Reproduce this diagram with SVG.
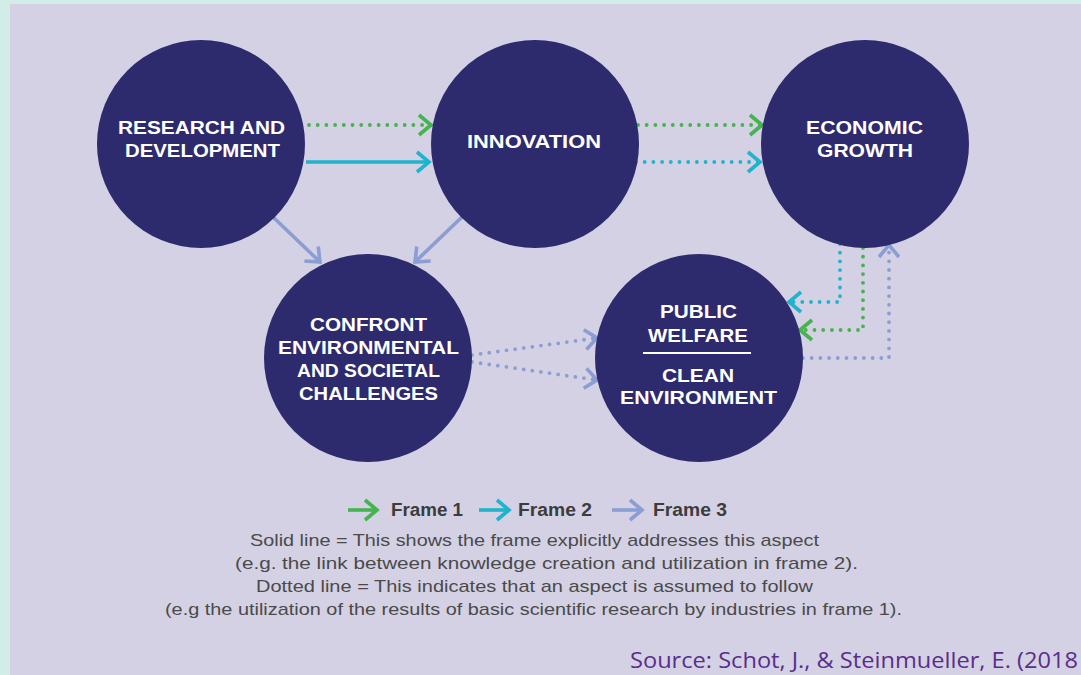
<svg xmlns="http://www.w3.org/2000/svg" width="1081" height="675" viewBox="0 0 1081 675">
<style>
.node circle{fill:#2E2A6E}
.lbl{font-family:"Liberation Sans",Arial,sans-serif;font-weight:bold;font-size:19px;fill:#FFFFFF;text-anchor:middle}
.ln{fill:none;stroke-width:3.6}
.dot{fill:none;stroke-width:3.8;stroke-dasharray:0 8.7;stroke-linecap:round}
.g{stroke:#45B34E}
.c{stroke:#1FB3CC}
.l{stroke:#8C9DD4}
.leg{font-family:"Liberation Sans",Arial,sans-serif;font-weight:bold;font-size:18px;fill:#3C3C3C}
.desc{font-family:"Liberation Sans",Arial,sans-serif;font-size:17px;fill:#4A4A4A;text-anchor:middle}
</style>
<defs>
<marker id="mg" markerUnits="userSpaceOnUse" viewBox="-16 -14 20 28" markerWidth="20" markerHeight="28" refX="0" refY="0" orient="auto"><path d="M-12,-10 L0,0 L-12,10" fill="none" stroke="#45B34E" stroke-width="3.6"/></marker>
<marker id="mc" markerUnits="userSpaceOnUse" viewBox="-16 -14 20 28" markerWidth="20" markerHeight="28" refX="0" refY="0" orient="auto"><path d="M-12,-10 L0,0 L-12,10" fill="none" stroke="#1FB3CC" stroke-width="3.6"/></marker>
<marker id="ml" markerUnits="userSpaceOnUse" viewBox="-16 -14 20 28" markerWidth="20" markerHeight="28" refX="0" refY="0" orient="auto"><path d="M-12,-10 L0,0 L-12,10" fill="none" stroke="#8C9DD4" stroke-width="3.6"/></marker>
</defs>
<rect x="0" y="0" width="1081" height="675" fill="#D2EDE8"/>
<rect x="10" y="4" width="1071" height="671" fill="#D4D1E4"/>

<g id="connectors">
<path class="dot g" d="M309,125 H431" marker-end="url(#mg)"/>
<path class="ln c" d="M306,162 H429" marker-end="url(#mc)"/>
<path class="dot g" d="M638,125 H762" marker-end="url(#mg)"/>
<path class="dot c" d="M636,162 H760" marker-end="url(#mc)"/>
<path class="ln l" d="M273,217 L320,262" marker-end="url(#ml)"/>
<path class="ln l" d="M462,217 L415,262" marker-end="url(#ml)"/>
<path class="dot c" d="M840,244 V302 H789" marker-end="url(#mc)"/>
<path class="dot g" d="M863,248 V330 H800" marker-end="url(#mg)"/>
<path class="dot l" d="M803,358 H889 V245" marker-end="url(#ml)"/>
<path class="dot l" d="M472,355 L597,338" marker-end="url(#ml)"/>
<path class="dot l" d="M472,362 L597,380" marker-end="url(#ml)"/>
</g>

<g id="rd" class="node">
<circle cx="201" cy="144" r="104"/>
<text class="lbl" x="201.5" y="134" textLength="167" lengthAdjust="spacingAndGlyphs">RESEARCH AND</text>
<text class="lbl" x="202.5" y="157" textLength="155" lengthAdjust="spacingAndGlyphs">DEVELOPMENT</text>
</g>
<g id="innovation" class="node">
<circle cx="535" cy="144" r="104"/>
<text class="lbl" x="534" y="148" textLength="134" lengthAdjust="spacingAndGlyphs">INNOVATION</text>
</g>
<g id="growth" class="node">
<circle cx="865" cy="144" r="104"/>
<text class="lbl" x="864.5" y="134" textLength="117" lengthAdjust="spacingAndGlyphs">ECONOMIC</text>
<text class="lbl" x="865" y="157" textLength="96" lengthAdjust="spacingAndGlyphs">GROWTH</text>
</g>
<g id="confront" class="node">
<circle cx="368" cy="358" r="104"/>
<text class="lbl" x="368.5" y="331" textLength="117" lengthAdjust="spacingAndGlyphs">CONFRONT</text>
<text class="lbl" x="368.5" y="354" textLength="181" lengthAdjust="spacingAndGlyphs">ENVIRONMENTAL</text>
<text class="lbl" x="368.5" y="377" textLength="143" lengthAdjust="spacingAndGlyphs">AND SOCIETAL</text>
<text class="lbl" x="368.5" y="400" textLength="139" lengthAdjust="spacingAndGlyphs">CHALLENGES</text>
</g>
<g id="welfare" class="node">
<circle cx="699" cy="358" r="104"/>
<text class="lbl" x="698.5" y="318" textLength="77" lengthAdjust="spacingAndGlyphs">PUBLIC</text>
<text class="lbl" x="698" y="342" textLength="100" lengthAdjust="spacingAndGlyphs">WELFARE</text>
<line x1="643" y1="353" x2="751" y2="353" stroke="#FFFFFF" stroke-width="2"/>
<text class="lbl" x="698" y="382" textLength="72" lengthAdjust="spacingAndGlyphs">CLEAN</text>
<text class="lbl" x="698.5" y="404" textLength="157" lengthAdjust="spacingAndGlyphs">ENVIRONMENT</text>
</g>

<g id="legend">
<path class="ln g" d="M348,510 H377" marker-end="url(#mg)"/>
<text class="leg" x="391" y="516" textLength="72" lengthAdjust="spacingAndGlyphs">Frame 1</text>
<path class="ln c" d="M479,510 H509" marker-end="url(#mc)"/>
<text class="leg" x="518" y="516" textLength="74" lengthAdjust="spacingAndGlyphs">Frame 2</text>
<path class="ln l" d="M612,510 H642" marker-end="url(#ml)"/>
<text class="leg" x="653" y="516" textLength="74" lengthAdjust="spacingAndGlyphs">Frame 3</text>
<text class="desc" x="534.5" y="546" textLength="569" lengthAdjust="spacingAndGlyphs">Solid line = This shows the frame explicitly addresses this aspect</text>
<text class="desc" x="546.5" y="569" textLength="623" lengthAdjust="spacingAndGlyphs">(e.g. the link between knowledge creation and utilization in frame 2).</text>
<text class="desc" x="534.5" y="592" textLength="557" lengthAdjust="spacingAndGlyphs">Dotted line = This indicates that an aspect is assumed to follow</text>
<text class="desc" x="533.5" y="615" textLength="737" lengthAdjust="spacingAndGlyphs">(e.g the utilization of the results of basic scientific research by industries in frame 1).</text>
</g>

<text id="source" x="630" y="668" font-family="'Open Sans','Liberation Sans',sans-serif" font-size="21" fill="#5A2D8C" textLength="448" lengthAdjust="spacingAndGlyphs">Source: Schot, J., &amp; Steinmueller, E. (2018</text>
</svg>
